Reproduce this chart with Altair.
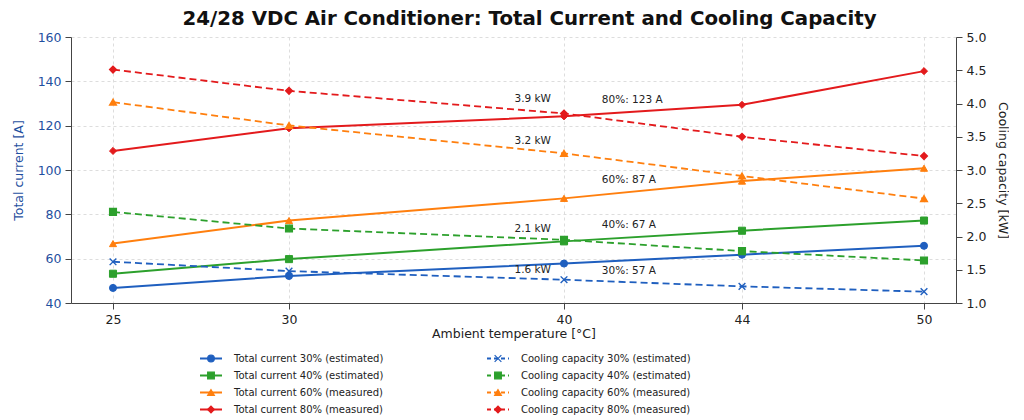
import pandas as pd
import altair as alt

# ambient temperature [°C]
temps = [25, 30, 40, 44, 50]

# total current [A]
cur30 = [46.8, 52.2, 57.8, 61.8, 65.8]
cur40 = [53.2, 59.8, 67.8, 72.6, 77.2]
cur60 = [66.8, 77.2, 87.2, 95.0, 100.8]
cur80 = [108.6, 118.8, 124.2, 129.4, 144.6]

# cooling capacity [kW]
cool30 = [1.62, 1.48, 1.35, 1.25, 1.17]
cool40 = [2.37, 2.12, 1.95, 1.78, 1.64]
cool60 = [4.02, 3.67, 3.25, 2.91, 2.57]
cool80 = [4.51, 4.19, 3.85, 3.50, 3.21]

cur_names = ['Total current 30% (estimated)', 'Total current 40% (estimated)',
             'Total current 60% (measured)', 'Total current 80% (measured)']
cool_names = ['Cooling capacity 30% (estimated)', 'Cooling capacity 40% (estimated)',
              'Cooling capacity 60% (measured)', 'Cooling capacity 80% (measured)']

colors = ['#1f5fbf', '#2ca02c', '#ff7f0e', '#e31a1c']
cur_shapes = ['circle', 'square', 'triangle-up', 'diamond']
cool_shapes = ['M-1,-1L1,1M-1,1L1,-1', 'square', 'triangle-up', 'diamond']

# text notes inside the plot
note_text = ['3.9 kW', '80%: 123 A', '3.2 kW', '60%: 87 A', '2.1 kW', '40%: 67 A', '1.6 kW', '30%: 57 A']
note_x = [38.2, 40.85, 38.2, 40.85, 38.2, 40.85, 38.2, 40.85]
note_y = [131.9, 131.6, 113.1, 95.7, 73.3, 75.4, 54.7, 54.4]

FONT = 'DejaVu Sans'
BLUE_AX = '#1f4fa0'

cur = pd.DataFrame([
    {'temp': t, 'value': v, 'series': n}
    for n, vals in zip(cur_names, [cur30, cur40, cur60, cur80])
    for t, v in zip(temps, vals)])
cool = pd.DataFrame([
    {'temp': t, 'value': v, 'series': n}
    for n, vals in zip(cool_names, [cool30, cool40, cool60, cool80])
    for t, v in zip(temps, vals)])
notes = pd.DataFrame({'temp': note_x, 'value': note_y, 'text': note_text})

all_names = cur_names + cool_names
color_scale = alt.Scale(domain=all_names, range=colors + colors)
shape_scale = alt.Scale(domain=all_names, range=cur_shapes + cool_shapes)

# uneven spacing of the temperature axis as in the picture
x_scale = alt.Scale(domain=[23.81, 25, 30, 40, 44, 50, 51.06],
                    range=[0, 42, 218, 493, 671, 853, 885])
x_enc = alt.X('temp:Q', scale=x_scale,
              axis=alt.Axis(values=temps, title='Ambient temperature [°C]', grid=True,
                            gridDash=[3, 3], gridColor='#dddddd', format='d', titlePadding=2))

y_cur = alt.Y('value:Q', scale=alt.Scale(domain=[40, 160]),
              axis=alt.Axis(values=list(range(40, 161, 20)), title='Total current [A]',
                            labelColor=BLUE_AX, titleColor=BLUE_AX, grid=True,
                            gridDash=[3, 3], gridColor='#dddddd', titlePadding=12))
y_cool = alt.Y('value:Q', scale=alt.Scale(domain=[1.0, 5.0]),
               axis=alt.Axis(values=[1.0, 1.5, 2.0, 2.5, 3.0, 3.5, 4.0, 4.5, 5.0], format='.1f',
                             orient='right', title='Cooling capacity [kW]', grid=False,
                             titlePadding=10))

col = alt.Color('series:N', scale=color_scale, legend=None)
shp = alt.Shape('series:N', scale=shape_scale, legend=None)
stk = alt.Stroke('series:N', scale=color_scale, legend=None)

cur_lines = alt.Chart(cur).mark_line(strokeWidth=2).encode(x=x_enc, y=y_cur, color=col, detail='series:N')
cur_pts = alt.Chart(cur).mark_point(filled=True, size=50, opacity=1, strokeWidth=1).encode(
    x=x_enc, y=y_cur, color=col, shape=shp, stroke=stk)
note_lbl = alt.Chart(notes).mark_text(align='left', baseline='middle', font=FONT, fontSize=10.5,
                                       color='#222222').encode(
    x=x_enc, y=alt.Y('value:Q', scale=alt.Scale(domain=[40, 160])), text='text:N')

cool_lines = alt.Chart(cool).mark_line(strokeWidth=1.8, strokeDash=[7, 4]).encode(
    x=x_enc, y=y_cool, color=col, detail='series:N')
cool_pts = alt.Chart(cool).mark_point(filled=True, size=45, opacity=1, strokeWidth=1.4).encode(
    x=x_enc, y=y_cool, color=col, shape=shp, stroke=stk)

main = alt.layer(
    alt.layer(cur_lines, cur_pts, note_lbl),
    alt.layer(cool_lines, cool_pts)
).resolve_scale(y='independent').properties(width=885, height=266)

# legend below the plot, two columns
leg = pd.DataFrame({
    'series': cur_names + cool_names,
    'kind': ['cur'] * 4 + ['cool'] * 4,
    'row': [0, 1, 2, 3] * 2,
    'col': [0] * 4 + [1] * 4,
})
leg['x0'] = leg['col'] * 287 + 129
leg['x1'] = leg['col'] * 287 + 151
leg['xm'] = leg['col'] * 287 + 140
leg['xt'] = leg['col'] * 287 + 163

lx = alt.Scale(domain=[0, 885], range=[0, 885])
ly = alt.Y('row:Q', scale=alt.Scale(domain=[-0.5, 3.5], reverse=True), axis=None)
leg_line = alt.Chart(leg).mark_rule(strokeWidth=2).encode(
    x=alt.X('x0:Q', scale=lx, axis=None), x2='x1:Q', y=ly, color=col,
    strokeDash=alt.StrokeDash('kind:N', scale=alt.Scale(domain=['cur', 'cool'], range=[[1, 0], [4, 3]]),
                              legend=None))
leg_pt = alt.Chart(leg).mark_point(filled=True, size=45, opacity=1, strokeWidth=1.2).encode(
    x=alt.X('xm:Q', scale=lx, axis=None), y=ly, color=col, shape=shp, stroke=stk)
leg_txt = alt.Chart(leg).mark_text(align='left', baseline='middle', font=FONT, fontSize=10,
                                    color='#222222').encode(
    x=alt.X('xt:Q', scale=lx, axis=None), y=ly, text='series:N')
legend = alt.layer(leg_line, leg_pt, leg_txt).properties(width=885, height=68)

chart = alt.vconcat(main, legend, spacing=10).properties(
    title=alt.TitleParams('24/28 VDC Air Conditioner: Total Current and Cooling Capacity',
                          font=FONT, fontSize=19.8, fontWeight='bold', anchor='middle', color='#111111',
                          offset=2, dx=19),
    padding={'left': 4, 'right': 0, 'top': 1, 'bottom': 0},
    background='white'
).configure_view(stroke=None).configure_axis(
    labelFont=FONT, titleFont=FONT, labelFontSize=12.5, titleFontSize=12.5, titleFontWeight='normal',
    domainColor='#444444', tickColor='#444444', labelColor='#222222', titleColor='#222222',
    tickSize=6, labelPadding=4
)

chart.save('out.html', embed_options={'renderer': 'svg', 'actions': False})
